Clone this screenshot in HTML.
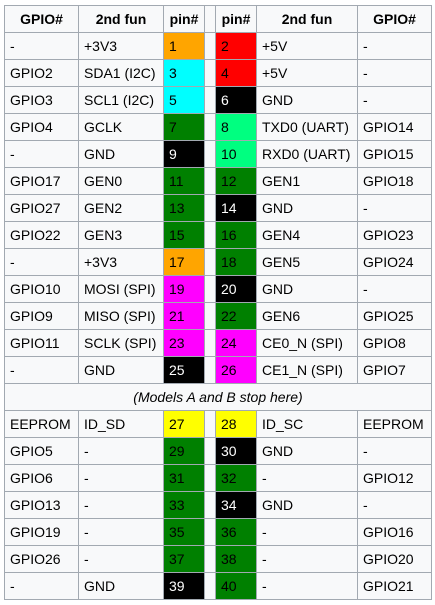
<!DOCTYPE html>
<html><head><meta charset="utf-8"><style>
body{margin:0;background:#fff;width:435px;height:605px;overflow:hidden;font-family:"Liberation Sans",sans-serif;}
table{position:absolute;left:4px;top:5px;border-collapse:collapse;table-layout:fixed;width:427px;background:#f8f9fa;color:#000;font-size:14px;}
td,th{border:1px solid #a2a9b1;height:27px;padding:0 0 0 5px;text-align:left;white-space:nowrap;overflow:hidden;box-sizing:border-box;}
th{text-align:center;padding:0;font-weight:bold;background:#f8f9fa;}
td.sp{padding:0;}
.note{text-align:center;font-style:italic;padding:0;}
.o{background:#ffa500}.r{background:#ff0000}.c{background:#00ffff}.k{background:#000;color:#fff}.g{background:#008000}.s{background:#00ff80}.m{background:#ff00ff}.y{background:#ffff00}
</style></head><body>
<table>
<colgroup><col style="width:74px"><col style="width:85px"><col style="width:41px"><col style="width:11px"><col style="width:41px"><col style="width:101px"><col style="width:74px"></colgroup>
<tr><th>GPIO#</th><th>2nd fun</th><th>pin#</th><th></th><th>pin#</th><th>2nd fun</th><th>GPIO#</th></tr>
<tbody id="b1"></tbody>
</table>
<script>
const left=[["-","+3V3",1,"o"],["GPIO2","SDA1 (I2C)",3,"c"],["GPIO3","SCL1 (I2C)",5,"c"],["GPIO4","GCLK",7,"g"],["-","GND",9,"k"],["GPIO17","GEN0",11,"g"],["GPIO27","GEN2",13,"g"],["GPIO22","GEN3",15,"g"],["-","+3V3",17,"o"],["GPIO10","MOSI (SPI)",19,"m"],["GPIO9","MISO (SPI)",21,"m"],["GPIO11","SCLK (SPI)",23,"m"],["-","GND",25,"k"],null,["EEPROM","ID_SD",27,"y"],["GPIO5","-",29,"g"],["GPIO6","-",31,"g"],["GPIO13","-",33,"g"],["GPIO19","-",35,"g"],["GPIO26","-",37,"g"],["-","GND",39,"k"]];
const right=[[2,"r","+5V","-"],[4,"r","+5V","-"],[6,"k","GND","-"],[8,"s","TXD0 (UART)","GPIO14"],[10,"s","RXD0 (UART)","GPIO15"],[12,"g","GEN1","GPIO18"],[14,"k","GND","-"],[16,"g","GEN4","GPIO23"],[18,"g","GEN5","GPIO24"],[20,"k","GND","-"],[22,"g","GEN6","GPIO25"],[24,"m","CE0_N (SPI)","GPIO8"],[26,"m","CE1_N (SPI)","GPIO7"],null,[28,"y","ID_SC","EEPROM"],[30,"k","GND","-"],[32,"g","-","GPIO12"],[34,"k","GND","-"],[36,"g","-","GPIO16"],[38,"g","-","GPIO20"],[40,"g","-","GPIO21"]];
const tb=document.getElementById('b1');
for(let i=0;i<left.length;i++){
 const tr=document.createElement('tr');
 
 
 if(!left[i]){tr.innerHTML='<td class="note" colspan="7">(Models A and B stop here)</td>';}
 else{const L=left[i],R=right[i];
 tr.innerHTML=`<td>${L[0]}</td><td>${L[1]}</td><td class="${L[3]}">${L[2]}</td><td class="sp"></td><td class="${R[1]}">${R[0]}</td><td>${R[2]}</td><td>${R[3]}</td>`;}
 tb.appendChild(tr);
}
</script>
</body></html>
